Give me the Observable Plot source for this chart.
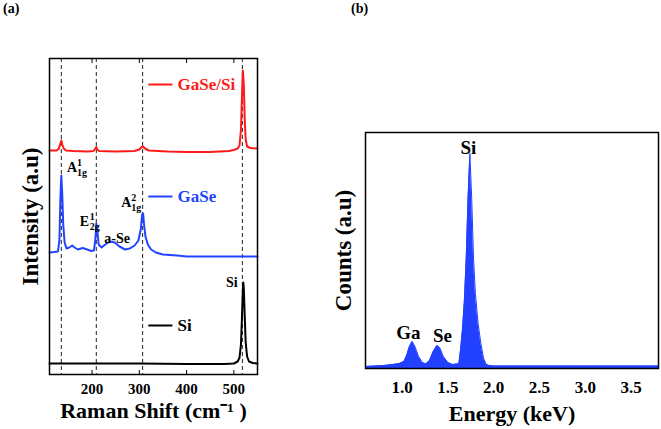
<!DOCTYPE html>
<html>
<head>
<meta charset="utf-8">
<script src="https://cdn.jsdelivr.net/npm/d3@7"></script>
<script src="https://cdn.jsdelivr.net/npm/@observablehq/plot@0.6"></script>
<style>
  html, body { margin: 0; padding: 0; background: #fff; }
  #wrap { position: relative; width: 661px; height: 429px; font-family: "Liberation Serif", "Times New Roman", serif; font-weight: bold; }
  .panel { position: absolute; top: 0; }
  .tag { position: absolute; top: 1px; font-size: 14px; }
</style>
</head>
<body>
<div id="wrap">
  <div class="tag" style="left:3px">(a)</div>
  <div class="tag" style="left:351px">(b)</div>
  <div id="a" class="panel" style="left:0px"></div>
  <div id="b" class="panel" style="left:330px"></div>
</div>
<script>
// ---------- Panel (a): Raman spectra (offset-stacked, arbitrary units) ----------
const siShift   = [110, 200, 300, 400, 480, 500, 508, 512, 515, 517, 519, 520, 521, 523, 525, 528, 532, 540, 550];
const siInt     = [11, 11, 11, 10.5, 10.5, 11, 13, 17, 30, 55, 85, 92, 86, 58, 32, 18, 13, 11.5, 11];

const gaseShift = [110, 120, 128, 131, 133, 135, 137, 139, 142, 146, 152, 158, 163, 170, 180, 190, 198, 204, 207, 209, 211, 214, 220, 228, 238, 248, 258, 270, 280, 290, 298, 303, 306, 308, 310, 313, 318, 325, 335, 350, 380, 400, 450, 500, 550];
const gaseInt   = [122, 122.5, 123, 135, 175, 199, 180, 150, 132, 126, 127, 129, 127, 125, 126.5, 125, 123.5, 124, 135, 151, 145, 130, 127, 130, 133, 132, 128, 125, 126, 129, 134, 145, 160, 161, 150, 138, 130, 125, 122, 120, 119, 118, 118, 118, 118];

const gasesiShift = [110, 125, 130, 133, 135, 137, 140, 145, 160, 190, 203, 207, 209, 211, 215, 250, 290, 300, 305, 308, 312, 320, 360, 400, 450, 490, 500, 508, 512, 515, 517, 519, 521, 523, 525, 528, 535, 550];
const gasesiInt   = [224, 224, 226, 231, 234, 230, 226, 224, 223.5, 223, 223.5, 226, 227.5, 225, 223.5, 223, 223.5, 225, 227.5, 228, 226, 224, 223, 222.5, 222.5, 223.5, 224.5, 226, 229, 245, 275, 304, 290, 255, 235, 228, 226.5, 226];

const peakLines   = [135, 209, 307, 518];
const ramanTicks  = [200, 300, 400, 500];
const seriesNames = ["GaSe/Si", "GaSe", "Si"];
const seriesColors = ["#ff1a1a", "#2244ff", "#000000"];

// ---------- Panel (b): EDS spectrum ----------
const edsEnergy = [0.6, 0.7, 0.8, 0.9, 0.97, 1.02, 1.05, 1.08, 1.11, 1.14, 1.18, 1.22, 1.26, 1.3, 1.34, 1.38, 1.41, 1.45, 1.5, 1.55, 1.6, 1.62, 1.64, 1.66, 1.68, 1.70, 1.72, 1.74, 1.76, 1.78, 1.80, 1.83, 1.86, 1.89, 1.92, 1.95, 2.0, 2.5, 3.0, 3.5, 3.8];
const edsCounts = [2, 2.5, 3, 4, 5, 7, 13, 22, 27, 22, 12, 6, 4.5, 8, 17, 23, 21, 12, 6, 4, 4.5, 5, 20, 40, 68, 110, 170, 215, 170, 110, 75, 45, 25, 10, 4, 3, 2.5, 2.5, 2.5, 2.5, 2.5];
const energyTicks = [1.0, 1.5, 2.0, 2.5, 3.0, 3.5];
const edsLabels = ["Si", "Ga", "Se"];

const zip = (xs, ys) => xs.map((x, i) => ({x, y: ys[i]}));
const raman = [
  {name: seriesNames[0], color: seriesColors[0], pts: zip(gasesiShift, gasesiInt)},
  {name: seriesNames[1], color: seriesColors[1], pts: zip(gaseShift, gaseInt)},
  {name: seriesNames[2], color: seriesColors[2], pts: zip(siShift, siInt)}
];
const eds = zip(edsEnergy, edsCounts);

const FONT = '"Liberation Serif", "Times New Roman", serif';

// composite label: base letter + superscript + subscript
function modeLabel(x, y, base, sup, sub) {
  return [
    Plot.text([base], {x: () => x, y: () => y, text: d => d, textAnchor: "start", fontSize: 14, fontWeight: "bold"}),
    Plot.text([sup], {x: () => x, y: () => y, text: d => d, textAnchor: "start", dx: 10, dy: -5, fontSize: 10, fontWeight: "bold"}),
    Plot.text([sub], {x: () => x, y: () => y, text: d => d, textAnchor: "start", dx: 10, dy: 5, fontSize: 10, fontWeight: "bold"})
  ];
}

const legendY = [290, 178, 49];

const plotA = Plot.plot({
  width: 330, height: 429,
  marginLeft: 49, marginRight: 73, marginTop: 58, marginBottom: 55,
  style: {fontFamily: FONT, fontWeight: "bold", fontSize: "15px", color: "#000", background: "transparent"},
  x: {domain: [110, 550]},
  y: {domain: [0, 316], axis: null},
  marks: [
    Plot.ruleX(peakLines, {stroke: "#222", strokeWidth: 1, strokeDasharray: "4,3"}),
    ...raman.map(s => Plot.line(s.pts, {x: "x", y: "y", stroke: s.color, strokeWidth: 2})),
    Plot.axisX({ticks: ramanTicks, tickSize: 0, tickPadding: 9, label: null, fontSize: 15, fontWeight: "bold"}),
    Plot.axisX({ticks: ramanTicks, tickSize: 4, dy: -4, tickFormat: () => "", label: null}),
    Plot.axisX({ticks: ramanTicks, anchor: "top", tickSize: 4, dy: 4, tickFormat: () => "", label: null}),
    Plot.frame({stroke: "#000", strokeWidth: 1.5}),
    // legend
    Plot.link(raman, {x1: () => 319, x2: () => 370, y1: (d, i) => legendY[i], y2: (d, i) => legendY[i], stroke: d => d.color, strokeWidth: 2}),
    Plot.text(raman, {x: () => 381, y: (d, i) => legendY[i], text: "name", fill: d => d.color, textAnchor: "start", fontSize: 17, fontWeight: "bold"}),
    // peak annotations
    ...modeLabel(147, 207, "A", "1", "1g"),
    ...modeLabel(174, 153, "E", "1", "2g"),
    ...modeLabel(262, 171.5, "A", "2", "1g"),
    Plot.text(["a-Se"], {x: () => 226, y: () => 136, text: d => d, textAnchor: "start", fontSize: 14, fontWeight: "bold"}),
    Plot.text([seriesNames[2]], {x: () => 508, y: () => 92, text: d => d, textAnchor: "end", fontSize: 14, fontWeight: "bold"}),
    // axis titles
    Plot.text(["Intensity (a.u)"], {frameAnchor: "left", rotate: -90, dx: -19, textAnchor: "middle", lineAnchor: "middle", text: d => d, fontSize: 23, fontWeight: "bold"}),
    Plot.text(["Raman Shift (cm\u207B\u00B9 )"], {frameAnchor: "bottom", dy: 36, textAnchor: "middle", lineAnchor: "middle", text: d => d, fontSize: 22, fontWeight: "bold"})
  ]
});
document.getElementById("a").appendChild(plotA);

const labelPos = [[1.724, 221], [1.069, 36], [1.44, 33]];
const plotB = Plot.plot({
  width: 331, height: 429,
  marginLeft: 35, marginRight: 3, marginTop: 132, marginBottom: 61,
  style: {fontFamily: FONT, fontWeight: "bold", fontSize: "17px", color: "#000", background: "transparent"},
  x: {domain: [0.6, 3.8]},
  y: {domain: [0, 236], axis: null},
  marks: [
    Plot.areaY(eds, {x: "x", y: "y", fill: "#2240ff"}),
    Plot.line(eds, {x: "x", y: "y", stroke: "#2240ff", strokeWidth: 1}),
    Plot.axisX({ticks: energyTicks, tickSize: 0, tickPadding: 12, tickFormat: d3.format(".1f"), label: null, fontSize: 17, fontWeight: "bold"}),
    Plot.frame({stroke: "#000", strokeWidth: 1.5}),
    Plot.text(edsLabels, {x: (d, i) => labelPos[i][0], y: (d, i) => labelPos[i][1], text: d => d, fontSize: 19, fontWeight: "bold"}),
    Plot.text(["Counts (a.u)"], {frameAnchor: "left", rotate: -90, dx: -22, textAnchor: "middle", lineAnchor: "middle", text: d => d, fontSize: 23, fontWeight: "bold"}),
    Plot.text(["Energy (keV)"], {frameAnchor: "bottom", dy: 45, textAnchor: "middle", lineAnchor: "middle", text: d => d, fontSize: 22, fontWeight: "bold"})
  ]
});
document.getElementById("b").appendChild(plotB);
</script>
</body>
</html>
